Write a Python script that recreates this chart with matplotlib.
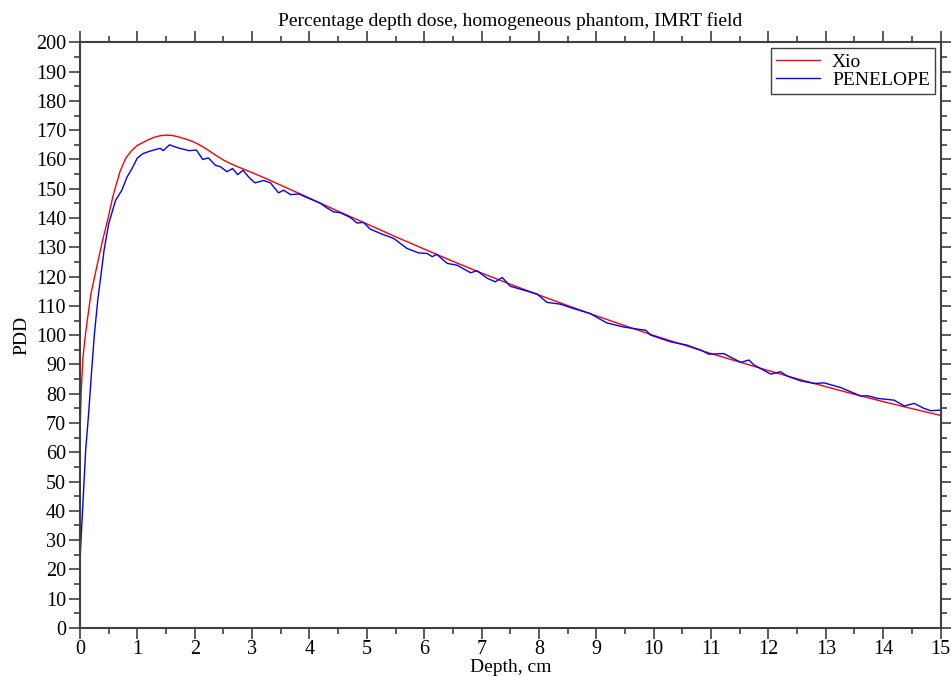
import matplotlib
matplotlib.use("Agg")
import matplotlib.pyplot as plt
from matplotlib.ticker import MultipleLocator

plt.rcParams['font.family'] = ['Liberation Serif', 'DejaVu Serif']

# Xio (treatment planning system) depth dose
xio_depth = [0.0, 0.02, 0.05, 0.1, 0.19, 0.3, 0.39, 0.49, 0.57, 0.61, 0.7, 0.8, 0.9,
             1.0, 1.1, 1.2, 1.3, 1.4, 1.5, 1.6, 1.7, 1.8, 1.9, 2.0, 2.1, 2.2, 2.3,
             2.4, 2.5, 2.6, 2.7, 2.8, 2.9, 3.0, 3.25, 3.5, 3.75, 4.0, 4.5, 5.0, 5.5,
             6.0, 6.5, 7.0, 7.5, 8.0, 8.5, 9.0, 9.5, 10.0, 10.5, 11.0, 11.5, 12.0,
             12.5, 13.0, 13.5, 14.0, 14.5, 15.0]
xio_pdd = [66.5, 80, 92, 101, 114, 124, 132, 140, 147, 150, 156, 160.5, 163,
           164.8, 165.8, 166.8, 167.6, 168.1, 168.3, 168.2, 167.8, 167.2, 166.6,
           165.8, 164.8, 163.6, 162.3, 161.0, 159.8, 158.8, 157.9, 157.1, 156.3,
           155.5, 153.4, 151.2, 149.0, 146.8, 142.3, 138.0, 133.6, 129.4, 125.2,
           121.2, 117.4, 113.7, 110.1, 106.6, 103.2, 99.9, 96.8, 93.7, 90.8, 87.9,
           85.1, 82.4, 79.8, 77.3, 74.9, 72.6]

# PENELOPE Monte Carlo depth dose
pen_depth = [0.0, 0.01, 0.05, 0.1, 0.15, 0.2, 0.25, 0.31, 0.42, 0.5, 0.62, 0.73,
             0.82, 0.91, 1.0, 1.1, 1.2, 1.3, 1.4, 1.45, 1.56, 1.7, 1.8, 1.9, 2.03,
             2.14, 2.24, 2.36, 2.45, 2.56, 2.66, 2.75, 2.84, 2.95, 3.05, 3.2, 3.32,
             3.46, 3.55, 3.67, 3.82, 3.93, 4.04, 4.19, 4.3, 4.42, 4.54, 4.71, 4.83,
             4.94, 5.06, 5.24, 5.47, 5.7, 5.9, 6.05, 6.14, 6.22, 6.4, 6.57, 6.81,
             6.92, 7.1, 7.24, 7.36, 7.5, 7.73, 7.97, 8.14, 8.37, 8.6, 8.89, 9.18,
             9.47, 9.77, 9.86, 9.95, 10.3, 10.58, 10.82, 10.96, 11.22, 11.52, 11.66,
             11.75, 12.04, 12.21, 12.33, 12.56, 12.8, 12.97, 13.26, 13.61, 13.73,
             13.9, 14.19, 14.37, 14.54, 14.71, 14.83, 15.0]
pen_pdd = [20, 27, 42, 61, 73, 87, 100, 112, 129, 138, 146, 149.5,
           154, 157, 160.5, 162, 162.7, 163.3, 163.8, 163, 165, 164, 163.5, 163,
           163.2, 160, 160.5, 158, 157.5, 155.8, 156.9, 154.8, 156.3, 153.8, 152,
           152.8, 152, 148.6, 149.5, 148, 148.2, 147.2, 146.3, 145, 143.5, 142.1,
           141.8, 140.2, 138.3, 138.5, 136.2, 134.7, 133, 129.6, 128.1, 127.9,
           126.8, 127.6, 124.5, 123.9, 121.3, 122, 119.4, 118.2, 119.7, 116.7,
           115.4, 114, 111.2, 110.6, 109.1, 107.4, 104.2, 102.8, 101.9, 101.7, 100,
           97.7, 96.6, 94.9, 93.5, 93.7, 90.7, 91.5, 89.8, 86.7, 87.5, 86, 84.4,
           83.5, 83.7, 82.1, 79.2, 79.3, 78.4, 77.8, 75.8, 76.7, 75, 74.2, 74.4]

fig = plt.figure(figsize=(9.51, 6.77), dpi=100)
ax = fig.add_axes([0.0841, 0.0724, 0.9049, 0.8651])

ax.plot(xio_depth, xio_pdd, color='#ff0000', lw=1.0, label='Xio')
ax.plot(pen_depth, pen_pdd, color='#0000ff', lw=1.0, label='PENELOPE')

ax.set_xlim(0, 15)
ax.set_ylim(0, 200)
ax.xaxis.set_major_locator(MultipleLocator(1))
ax.xaxis.set_minor_locator(MultipleLocator(0.5))
ax.yaxis.set_major_locator(MultipleLocator(10))
ax.yaxis.set_minor_locator(MultipleLocator(5))

axis_col = '#404040'
for s in ax.spines.values():
    s.set_color(axis_col)
    s.set_linewidth(1.5)
ax.tick_params(which='both', direction='out', top=True, right=True,
               labeltop=False, labelright=False, color=axis_col, width=1.2)
ax.tick_params(which='major', length=8, labelsize=14.5, pad=2)
ax.tick_params(axis='x', which='major', pad=1)
ax.tick_params(which='minor', length=4)

ax.set_title("Percentage depth dose, homogeneous phantom, IMRT field",
             fontsize=14, pad=12)
ax.set_xlabel("Depth, cm", fontsize=14, labelpad=0)
ax.set_ylabel("PDD", fontsize=14, labelpad=4)

leg = ax.legend(loc='upper right', fontsize=14, fancybox=False,
                framealpha=1, borderaxespad=0.3, handlelength=2.3,
                borderpad=0.25, labelspacing=0.05, handletextpad=0.6)
leg.get_frame().set_edgecolor(axis_col)
leg.get_frame().set_linewidth(1.0)

fig.savefig("out.png", dpi=100)
